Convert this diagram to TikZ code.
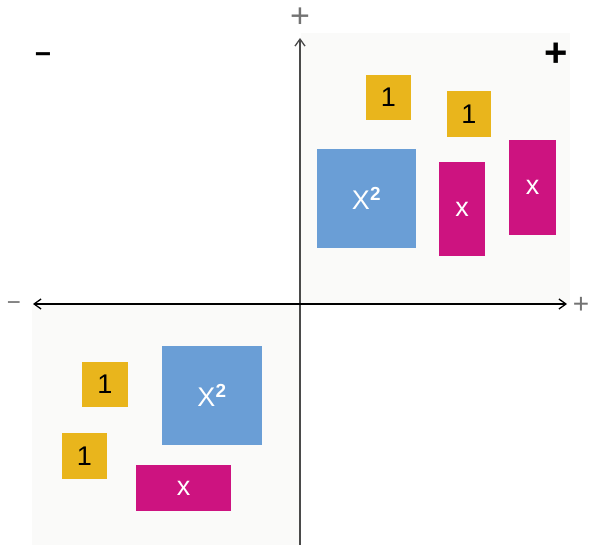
\documentclass[tikz,border=0pt]{standalone}
\usepackage{fontspec}
\setmainfont{Liberation Sans}
\usetikzlibrary{arrows.meta}
\definecolor{tileY}{HTML}{E9B51C}
\definecolor{tileB}{HTML}{6A9ED6}
\definecolor{tileM}{HTML}{CD1380}
\definecolor{quad}{HTML}{FAFAF9}
\definecolor{axisV}{HTML}{4A4A4A}
\tikzset{
  tile/.style={inner sep=0pt, outer sep=0pt, font=\fontsize{27}{27}\selectfont},
  onetile/.style={tile, fill=tileY, text=black},
  sqtile/.style={tile, fill=tileB, text=white, minimum width=99pt, minimum height=99pt},
  xtile/.style={tile, fill=tileM, text=white},
  signsmall/.style={inner sep=0pt, text=gray!90!black},
  signbig/.style={inner sep=0pt, text=black, font=\bfseries},
  tip/.style={-{Straight Barb[length=7pt,width=10pt,line width=1.3pt]}}
}
\begin{document}
\begin{tikzpicture}[x=1pt,y=-1pt]
\useasboundingbox (0,0) rectangle (590,545);
\fill[white] (0,0) rectangle (590,545);
% shaded quadrants
\fill[quad] (301,33) rectangle (570,303);
\fill[quad] (32,305) rectangle (299,545);
% axes
\coordinate (vbot) at (300,545);
\coordinate (vtop) at (300,38);
\coordinate (hl) at (33,304);
\coordinate (hr) at (567,304);
\draw[axisV, line width=2.4pt, tip] (vbot) -- (vtop);
\draw[black, line width=1.2pt, {Straight Barb[length=7pt,width=10pt,line width=1.3pt]}-{Straight Barb[length=7pt,width=10pt,line width=1.3pt]}] (hl) -- (hr);
% axis labels
\node[signsmall, font=\fontsize{34}{34}\selectfont] (ptop) at (300,18) {+};
\node[signsmall, font=\fontsize{28}{28}\selectfont] (pright) at (581,305) {+};
\node[signsmall, font=\fontsize{24}{24}\selectfont] (mleft) at (14,306) {−};
% quadrant signs
\node[signbig, font=\fontsize{28}{28}\selectfont\bfseries] (qminus) at (43,58) {−};
\node[signbig, font=\fontsize{40}{40}\selectfont\bfseries] (qplus) at (556,55) {+};
% top-right tiles
\node[onetile, minimum width=45pt, minimum height=45pt] (ya) at (388.5,97.5) {1};
\node[onetile, minimum width=44pt, minimum height=46pt] (yb) at (469,114) {1};
\node[sqtile] (ba) at (366.5,198.5) {X\textsuperscript{\bfseries 2}};
\node[xtile, minimum width=46pt, minimum height=94pt] (ma) at (462,209) {x};
\node[xtile, minimum width=47pt, minimum height=95pt] (mb) at (532.5,187.5) {x};
% bottom-left tiles
\node[onetile, minimum width=46pt, minimum height=45pt] (yc) at (105,384.5) {1};
\node[onetile, minimum width=45pt, minimum height=46pt] (yd) at (84.5,456) {1};
\node[sqtile, minimum width=100pt] (bb) at (212,395.5) {X\textsuperscript{\bfseries 2}};
\node[xtile, minimum width=95pt, minimum height=46pt] (mc) at (183.5,488) {x};
\end{tikzpicture}
\end{document}
